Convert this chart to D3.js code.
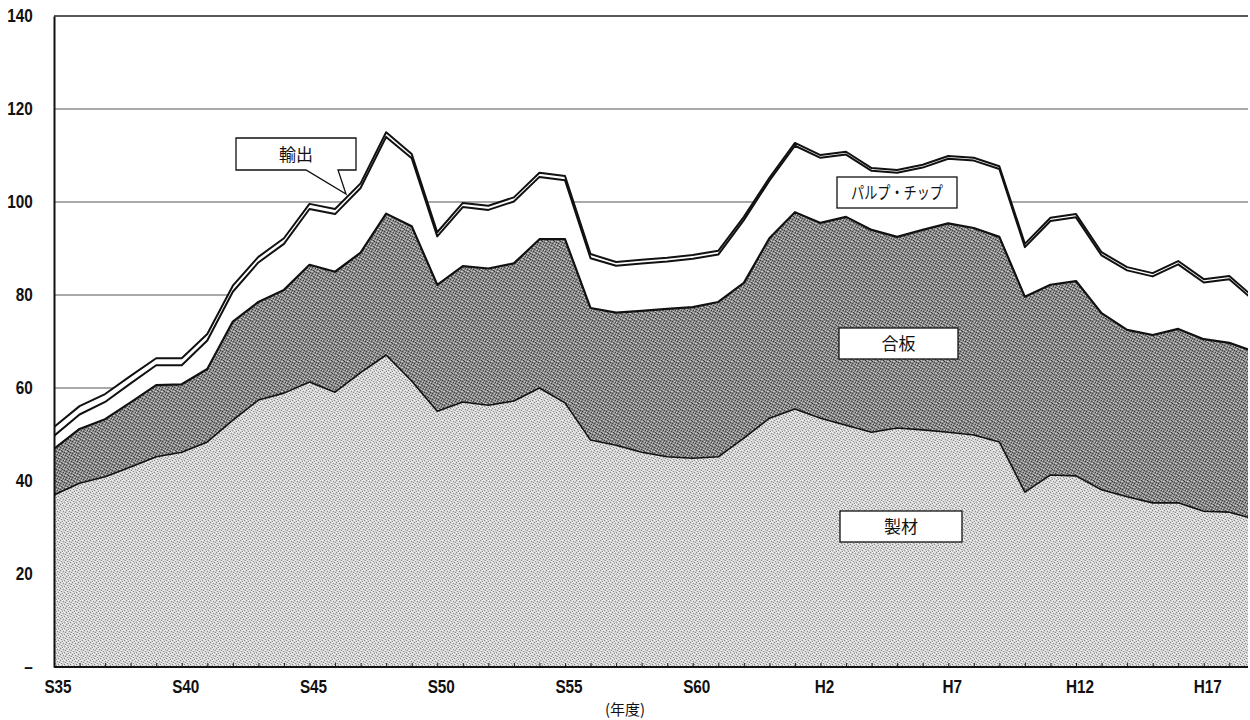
<!DOCTYPE html>
<html>
<head>
<meta charset="utf-8">
<script src="https://cdn.jsdelivr.net/npm/d3@7"></script>
<style>
  body { margin: 0; background: #fff; }
  text { fill: #111; }
</style>
</head>
<body>
<script>

// 年度 (S35 = 1960 ... H19 = 2007)
var years = [1960, 1961, 1962, 1963, 1964, 1965, 1966, 1967, 1968, 1969,
             1970, 1971, 1972, 1973, 1974, 1975, 1976, 1977, 1978, 1979,
             1980, 1981, 1982, 1983, 1984, 1985, 1986, 1987, 1988, 1989,
             1990, 1991, 1992, 1993, 1994, 1995, 1996, 1997, 1998, 1999,
             2000, 2001, 2002, 2003, 2004, 2005, 2006, 2007]

// 製材
var seizai = [37.0, 39.5, 40.9, 43.0, 45.2, 46.2, 48.4, 53.1, 57.4, 58.9,
              61.3, 59.1, 63.3, 67.1, 61.5, 55.0, 57.0, 56.3, 57.2, 60.0,
              56.8, 48.8, 47.7, 46.2, 45.2, 44.9, 45.2, 49.2, 53.5, 55.5,
              53.5, 52.0, 50.5, 51.4, 51.0, 50.5, 49.9, 48.4, 37.6, 41.3,
              41.1, 38.1, 36.6, 35.3, 35.3, 33.5, 33.3, 31.8]

// 合板
var gohan = [9.9, 11.7, 12.4, 13.9, 15.4, 14.6, 15.7, 21.2, 21.1, 22.2,
             25.2, 25.9, 25.8, 30.4, 33.3, 27.2, 29.2, 29.4, 29.6, 32.0,
             35.2, 28.4, 28.5, 30.4, 31.8, 32.5, 33.3, 33.4, 38.7, 42.3,
             42.0, 44.8, 43.5, 41.1, 43.0, 44.9, 44.5, 44.1, 42.0, 40.9,
             41.9, 38.0, 35.9, 36.1, 37.4, 37.0, 36.4, 36.0]

// パルプ・チップ
var pulp = [2.8, 3.1, 3.7, 4.1, 4.3, 4.1, 6.1, 6.4, 8.5, 9.9,
            12.0, 12.4, 13.9, 16.5, 14.6, 10.4, 12.7, 12.6, 13.3, 13.4,
            12.7, 10.7, 10.1, 10.2, 10.2, 10.4, 10.2, 13.5, 12.4, 14.3,
            14.0, 13.4, 12.7, 13.8, 13.4, 13.9, 14.5, 14.6, 10.7, 13.7,
            13.7, 12.4, 12.8, 12.6, 13.9, 12.2, 13.7, 10.8]

// 輸出
var yushutsu = [1.9, 1.8, 1.7, 1.6, 1.5, 1.5, 1.4, 1.3, 1.2, 1.2,
                1.1, 1.1, 1.0, 1.0, 0.9, 0.9, 0.9, 0.9, 0.9, 0.9,
                0.9, 0.9, 0.8, 0.8, 0.8, 0.8, 0.8, 0.7, 0.6, 0.6,
                0.6, 0.6, 0.6, 0.6, 0.6, 0.6, 0.6, 0.6, 0.7, 0.7,
                0.7, 0.7, 0.7, 0.7, 0.7, 0.7, 0.7, 0.7]

var labelYears = [1960, 1965, 1970, 1975, 1980, 1985, 1990, 1995, 2000, 2005]
var labelNames = ["S35", "S40", "S45", "S50", "S55", "S60", "H2", "H7", "H12", "H17"]
var yTicks = [0, 20, 40, 60, 80, 100, 120, 140]

var keys = ["seizai", "gohan", "pulp", "yushutsu"]

var numFont = "'Liberation Sans', Arial, sans-serif"
var jpFont = "'Noto Sans CJK JP', 'Noto Sans', sans-serif"

/* SVG */

var svg = d3.select("body").append("svg")
  .attr("width", 1250)
  .attr("height", 720)

var plotL = 54, plotR = 1248, plotT = 16, plotB = 667

var x = d3.scaleLinear().domain([1960, 2007]).range([plotL, plotL + 47 * 25.55])
var y = d3.scaleLinear().domain([0, 140]).range([plotB, plotT])

/* TEXTURES */

var defs = svg.append("defs")

function texture(id, base, dark, light, darkDots, lightDots) {
  var p = defs.append("pattern")
    .attr("id", id)
    .attr("patternUnits", "userSpaceOnUse")
    .attr("width", 6)
    .attr("height", 6)
  p.append("rect").attr("width", 6).attr("height", 6).attr("fill", base)
  darkDots.forEach(function(d) {
    p.append("rect").attr("x", d[0]).attr("y", d[1]).attr("width", 1).attr("height", 1).attr("fill", dark)
  })
  lightDots.forEach(function(d) {
    p.append("rect").attr("x", d[0]).attr("y", d[1]).attr("width", 1).attr("height", 1).attr("fill", light)
  })
}

texture("texLight", "#d4d4d4", "#8a8a8a", "#f6f6f6",
  [[0, 0], [3, 1], [1, 3], [4, 4], [2, 5], [5, 2]],
  [[2, 0], [5, 3], [0, 4], [3, 5], [4, 0], [1, 2]])
texture("texDark", "#878787", "#404040", "#c8c8c8",
  [[1, 0], [4, 2], [0, 3], [3, 4], [5, 5], [2, 1]],
  [[3, 0], [0, 1], [2, 3], [5, 1], [1, 5], [4, 4]])

defs.append("clipPath").attr("id", "plotClip")
  .append("rect")
  .attr("x", plotL)
  .attr("y", 0)
  .attr("width", plotR - plotL)
  .attr("height", 720)

/* GRID */

svg.append("g")
  .selectAll("line")
  .data(yTicks.filter(function(d) { return d > 0 }))
  .enter()
  .append("line")
  .attr("x1", plotL)
  .attr("x2", plotR)
  .attr("y1", function(d) { return y(d) })
  .attr("y2", function(d) { return y(d) })
  .attr("stroke", function(d) { return d == 140 ? "#222" : "#555" })
  .attr("stroke-width", function(d) { return d == 140 ? 1.5 : 1.2 })

/* STACKED AREAS */

var rows = years.map(function(yr, i) {
  return { year: yr, seizai: seizai[i], gohan: gohan[i], pulp: pulp[i], yushutsu: yushutsu[i] }
})

var series = d3.stack().keys(keys)(rows)

var fills = { seizai: "url(#texLight)", gohan: "url(#texDark)", pulp: "#fff", yushutsu: "#fff" }
var strokeW = { seizai: 1.6, gohan: 2.2, pulp: 2, yushutsu: 2 }

var area = d3.area()
  .x(function(d) { return x(d.data.year) })
  .y0(function(d) { return y(d[0]) })
  .y1(function(d) { return y(d[1]) })

var topLine = d3.line()
  .x(function(d) { return x(d.data.year) })
  .y(function(d) { return y(d[1]) })

var plot = svg.append("g").attr("clip-path", "url(#plotClip)")

plot.selectAll("path.area")
  .data(series)
  .enter()
  .append("path")
  .attr("class", "area")
  .attr("d", area)
  .attr("fill", function(d) { return fills[d.key] })

plot.selectAll("path.edge")
  .data(series)
  .enter()
  .append("path")
  .attr("class", "edge")
  .attr("d", topLine)
  .attr("fill", "none")
  .attr("stroke", "#111")
  .attr("stroke-width", function(d) { return strokeW[d.key] })
  .attr("stroke-linejoin", "round")

/* AXES */

var xMinor = d3.axisBottom(x).tickValues(years).tickSize(-4).tickFormat("")
svg.append("g")
  .attr("transform", "translate(0," + plotB + ")")
  .call(xMinor)
  .call(function(g) { g.select(".domain").remove() })
  .selectAll("line").attr("stroke", "#222")

var xAxis = d3.axisBottom(x)
  .tickValues(labelYears)
  .tickSize(0)
  .tickPadding(13)
  .tickFormat(function(d) { return labelNames[labelYears.indexOf(d)] })

var gx = svg.append("g")
  .attr("transform", "translate(0," + plotB + ")")
  .call(xAxis)
gx.select(".domain").remove()
gx.selectAll(".tick").attr("transform", function(d) { return "translate(" + (x(d) + 4) + ",0)" })
gx.selectAll("text")
  .attr("transform", "scale(0.85,1)")
  .style("font-family", numFont)
  .style("font-size", "18px")
  .style("font-weight", "bold")
  .style("fill", "#111")

svg.append("line")
  .attr("x1", plotL).attr("x2", plotR)
  .attr("y1", plotB).attr("y2", plotB)
  .attr("stroke", "#111").attr("stroke-width", 2)

var yAxis = d3.axisLeft(y)
  .tickValues(yTicks)
  .tickSize(0)
  .tickPadding(25)
  .tickFormat(function(d) { return d == 0 ? "–" : d })

var gy = svg.append("g")
  .attr("transform", "translate(" + plotL + ",0)")
  .call(yAxis)
gy.select(".domain").attr("stroke", "#111").attr("stroke-width", 2)
gy.selectAll("text")
  .attr("transform", "scale(0.85,1)")
  .style("font-family", numFont)
  .style("font-size", "18px")
  .style("font-weight", "bold")
  .style("fill", "#111")

svg.append("text")
  .attr("x", 625)
  .attr("y", 715)
  .attr("text-anchor", "middle")
  .style("font-family", jpFont)
  .style("font-size", "15px")
  .text("(年度)")

/* LABELS */

// 輸出 callout
svg.append("path")
  .attr("d", "M236,138 H356 V170 H338 L346,194 L306,170 H236 Z")
  .attr("fill", "#fff")
  .attr("stroke", "#111")
  .attr("stroke-width", 1.3)

svg.append("text")
  .attr("x", 296).attr("y", 161)
  .attr("text-anchor", "middle")
  .style("font-family", jpFont)
  .style("font-size", "17px")
  .text("輸出")

var boxes = [
  { name: "パルプ・チップ", x: 837, y: 177, w: 120, h: 31, fit: 92 },
  { name: "合板", x: 839, y: 328, w: 119, h: 31, fit: 0 },
  { name: "製材", x: 840, y: 511, w: 122, h: 31, fit: 0 }
]

boxes.forEach(function(b) {
  svg.append("rect")
    .attr("x", b.x).attr("y", b.y)
    .attr("width", b.w).attr("height", b.h)
    .attr("fill", "#fff")
    .attr("stroke", "#111")
    .attr("stroke-width", 1.3)
  var t = svg.append("text")
    .attr("x", b.x + b.w / 2)
    .attr("y", b.y + b.h / 2 + 6)
    .attr("text-anchor", "middle")
    .style("font-family", jpFont)
    .style("font-size", "17px")
    .text(b.name)
  if (b.fit) {
    t.attr("textLength", b.fit).attr("lengthAdjust", "spacingAndGlyphs")
  }
})

</script>
</body>
</html>
